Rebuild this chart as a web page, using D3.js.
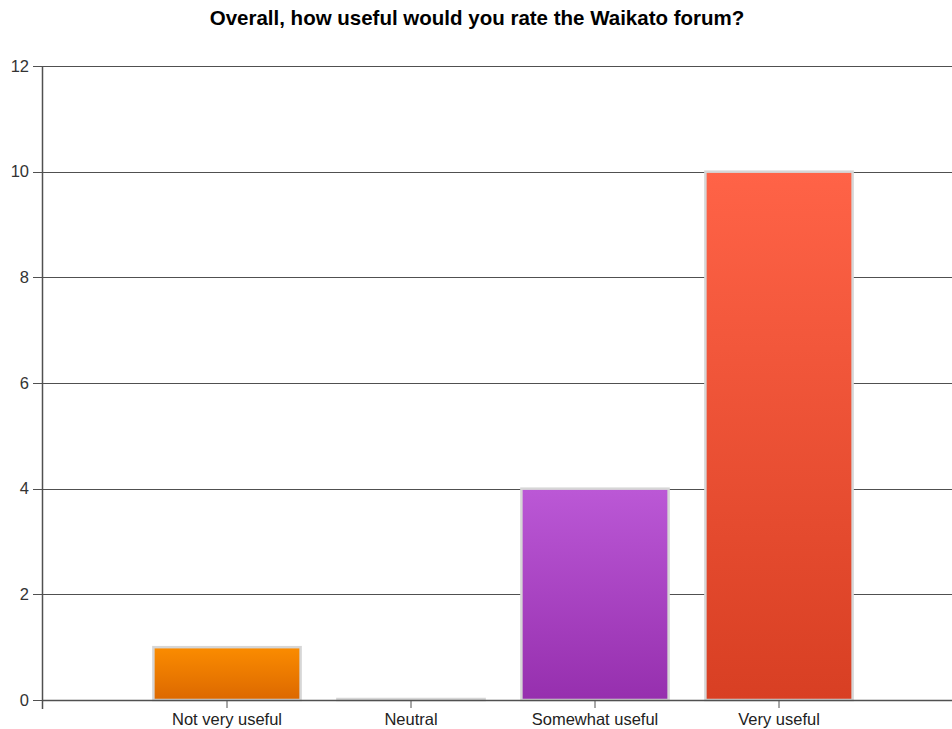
<!DOCTYPE html>
<html>
<head>
<meta charset="utf-8">
<script src="https://cdn.jsdelivr.net/npm/d3@7"></script>
<style>
  body { margin: 0; background: #fff; }
  text { font-family: "Liberation Sans", Arial, sans-serif; }
</style>
</head>
<body>
<div id="chart"></div>
<script>
// chart data
const categories = ["Not very useful", "Neutral", "Somewhat useful", "Very useful"];
const counts = [1, 0, 4, 10];
const yTicks = [0, 2, 4, 6, 8, 10, 12];
const barTop = ["#fb8c00", "#ffffff", "#bb58d6", "#ff6347"];
const barBottom = ["#dc6800", "#ffffff", "#962fae", "#d83f23"];

const width = 952, height = 729;
const margin = { top: 66, left: 43, bottom: 29 };
const y0 = height - margin.bottom; // 700

const svg = d3.select("#chart").append("svg")
  .attr("width", width)
  .attr("height", height);

// gradients for the bars
const defs = svg.append("defs");
categories.forEach(function (c, i) {
  const g = defs.append("linearGradient")
    .attr("id", "grad" + i)
    .attr("x1", 0).attr("y1", 0).attr("x2", 0).attr("y2", 1);
  g.append("stop").attr("offset", "0%").attr("stop-color", barTop[i]);
  g.append("stop").attr("offset", "100%").attr("stop-color", barBottom[i]);
});

// scales
const x = d3.scaleBand()
  .domain(categories)
  .range([135, 871])
  .paddingInner(0.2)
  .paddingOuter(0.1);

const y = d3.scaleLinear()
  .domain([0, 12])
  .range([y0, margin.top]);

// title
svg.append("text")
  .attr("x", 477)
  .attr("y", 25)
  .attr("text-anchor", "middle")
  .style("font-size", "20.5px")
  .style("font-weight", "bold")
  .attr("fill", "#000")
  .text("Overall, how useful would you rate the Waikato forum?");

// gridlines
svg.append("g")
  .selectAll("line")
  .data(yTicks)
  .enter()
  .append("line")
  .attr("x1", margin.left - 10)
  .attr("x2", width)
  .attr("y1", function (d) { return Math.round(y(d)) + 0.5; })
  .attr("y2", function (d) { return Math.round(y(d)) + 0.5; })
  .attr("stroke", "#505050")
  .attr("stroke-width", 1);

// y tick labels
svg.append("g")
  .selectAll("text")
  .data(yTicks)
  .enter()
  .append("text")
  .attr("x", margin.left - 14)
  .attr("y", function (d) { return y(d); })
  .attr("dy", "0.35em")
  .attr("text-anchor", "end")
  .style("font-size", "16.5px")
  .attr("fill", "#333")
  .text(function (d) { return d; });

// bars (zero-height bars still show their border line)
svg.append("g")
  .selectAll("rect")
  .data(counts)
  .enter()
  .append("rect")
  .attr("x", function (d, i) { return x(categories[i]); })
  .attr("y", function (d) { return Math.min(y(d), y0 - 1); })
  .attr("width", x.bandwidth())
  .attr("height", function (d) { return Math.max(1, y0 - y(d)); })
  .attr("fill", function (d, i) { return "url(#grad" + i + ")"; })
  .attr("stroke", "#d6d6d6")
  .attr("stroke-width", 2.5);

// x axis line
svg.append("line")
  .attr("x1", margin.left).attr("x2", width)
  .attr("y1", y0 + 0.5).attr("y2", y0 + 0.5)
  .attr("stroke", "#505050")
  .attr("stroke-width", 1.5);

// y axis line
svg.append("line")
  .attr("x1", margin.left - 0.5).attr("x2", margin.left - 0.5)
  .attr("y1", margin.top).attr("y2", y0 + 9)
  .attr("stroke", "#505050")
  .attr("stroke-width", 1.5);

// x ticks and labels
const xt = svg.append("g")
  .selectAll("g")
  .data(categories)
  .enter()
  .append("g")
  .attr("transform", function (d) { return "translate(" + (x(d) + x.bandwidth() / 2) + ",0)"; });
xt.append("line")
  .attr("y1", y0).attr("y2", y0 + 8)
  .attr("stroke", "#505050");
xt.append("text")
  .attr("y", y0 + 25)
  .attr("text-anchor", "middle")
  .style("font-size", "16.5px")
  .attr("fill", "#222")
  .text(function (d) { return d; });
</script>
</body>
</html>
